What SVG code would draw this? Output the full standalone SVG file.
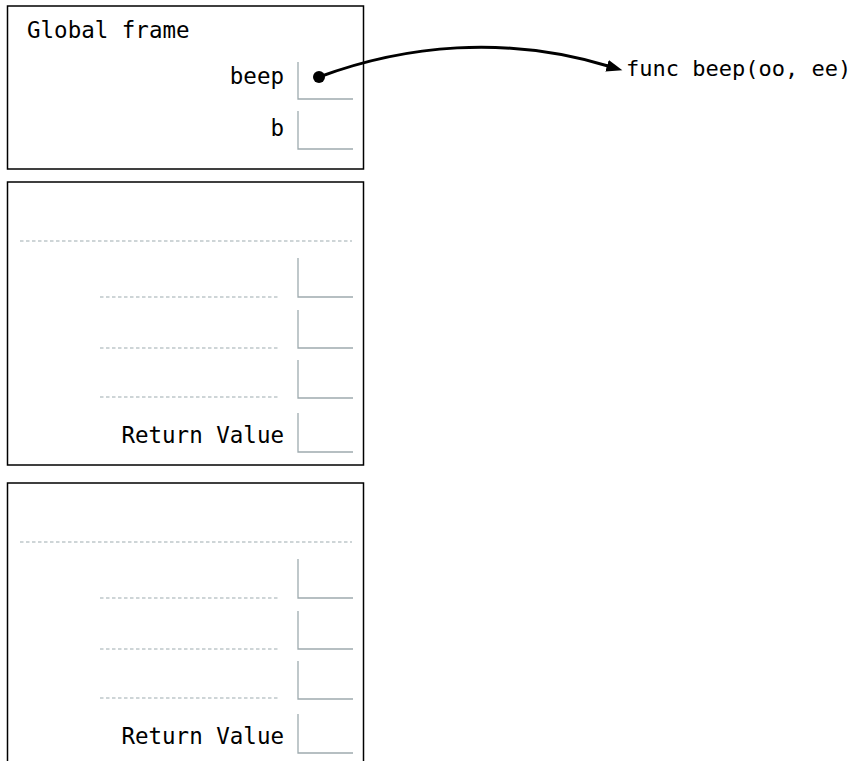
<svg xmlns="http://www.w3.org/2000/svg" width="858" height="761" viewBox="0 0 858 761">
<defs>
<style>
.frame{fill:#fff;stroke:#000;stroke-width:1.5}
.box{fill:none;stroke:#9eabaf;stroke-width:1.3}
.dash{fill:none;stroke:#9eabaf;stroke-width:1.2;stroke-dasharray:3.5 2.5}
.t{font-family:"DejaVu Sans Mono","Liberation Mono",monospace;font-size:22.5px;fill:#000}
.r{text-anchor:end}
.conn{fill:none;stroke:#000;stroke-width:3}
</style>
<marker id="ah" markerUnits="userSpaceOnUse" markerWidth="18" markerHeight="14" refX="1" refY="6" orient="auto">
<path d="M0,0 L16,6 L0,12 z" fill="#000"/>
</marker>
</defs>
<rect width="858" height="761" fill="#fff"/>
<g id="global-frame">
<rect class="frame" x="7.5" y="6" width="356" height="163"/>
<text class="t" x="27" y="38">Global frame</text>
<text class="t r" x="284" y="84">beep</text>
<path class="box" d="M298,62 V99 H353"/>
<text class="t r" x="284" y="136">b</text>
<path class="box" d="M298,111 V149 H353"/>
</g>
<g id="frame-2">
<rect class="frame" x="7.5" y="182" width="356" height="283"/>
<path class="dash" d="M20,241 H352"/>
<path class="dash" d="M100,297 H280 M100,348 H280 M100,397 H280"/>
<path class="box" d="M298,258 V297 H353 M298,310 V348 H353 M298,360 V398 H353 M298,413 V452 H353"/>
<text class="t r" x="284" y="443">Return Value</text>
</g>
<g id="frame-3">
<rect class="frame" x="7.5" y="483" width="356" height="300"/>
<path class="dash" d="M20,542 H352"/>
<path class="dash" d="M100,598 H280 M100,649 H280 M100,698 H280"/>
<path class="box" d="M298,559 V598 H353 M298,611 V649 H353 M298,661 V699 H353 M298,714 V753 H353"/>
<text class="t r" x="284" y="744">Return Value</text>
</g>
<g id="func-beep">
<text class="t" x="626" y="76" style="font-size:22px">func beep(oo, ee)</text>
</g>
<g id="connectors">
<circle cx="319" cy="77" r="6" fill="#000"/>
<path class="conn" d="M319,77 C405,45 505,35 608,66" marker-end="url(#ah)"/>
</g>
</svg>
